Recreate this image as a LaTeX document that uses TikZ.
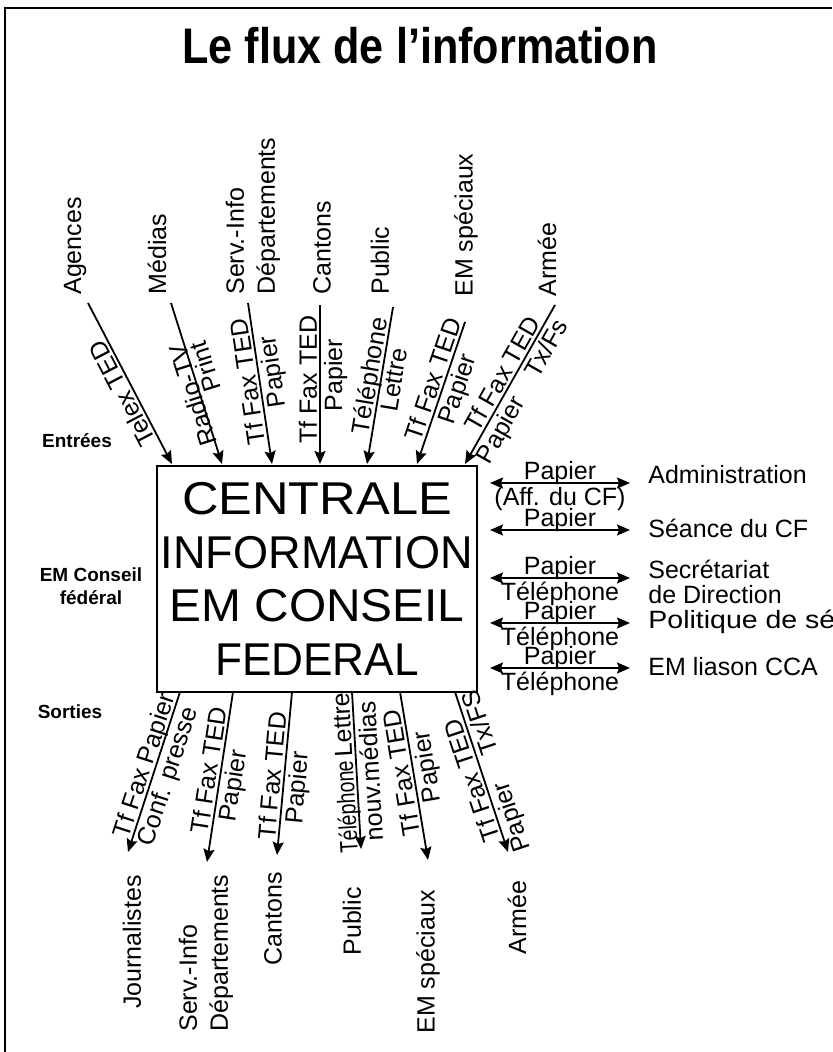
\documentclass[tikz,border=0pt]{standalone}
\usepackage{fontspec}
\setmainfont{Liberation Sans}
\usetikzlibrary{arrows.meta}
\begin{document}
\begin{tikzpicture}[x=0.5pt,y=-0.5pt,
  every node/.style={inner sep=0pt},
  lbl/.style={font=\fontsize{12.5}{15.5}\selectfont},
  conn/.style={line width=0.9pt,{Stealth[length=6.5pt,width=5.5pt,inset=1pt]}-},
  bid/.style={line width=0.9pt,{Stealth[length=6.5pt,width=5.5pt,inset=1pt]}-{Stealth[length=6.5pt,width=5.5pt,inset=1pt]}},
  onl/.style={lbl,sloped,allow upside down,anchor=base,yshift=1.6pt},
  unl/.style={lbl,sloped,allow upside down,anchor=north,yshift=-1.6pt},
  tgt/.style={lbl,rotate=90,align=left},
  side/.style={font=\fontsize{9.5}{11.5}\selectfont\bfseries,align=center},
  rgt/.style={lbl,anchor=west,align=left},
]
\useasboundingbox (0,0) rectangle (832,1052);
\clip (0,0) rectangle (832,1052);

% frame
\draw[line width=1.1pt] (5,1052) -- (5,8) -- (832,8);

% title
\node[anchor=base,font=\fontsize{25}{30}\selectfont\bfseries] (title) at (420,64)
  {\scalebox{0.864}[1]{Le flux de l’information}};

% side labels
\node[side] (ent) at (77,441) {Entrées};
\node[side] (emcf) at (91,586) {EM Conseil\\fédéral};
\node[side] (sor) at (70,712) {Sorties};

% central box
\node[draw,line width=1.2pt,minimum width=160pt,minimum height=113pt,align=center,
      font=\fontsize{23}{26.85}\selectfont] (box) at (317,579)
  {\scalebox{1.1}[1]{CENTRALE}\\\scalebox{0.98}[1]{INFORMATION}\\\scalebox{1.04}[1]{EM CONSEIL}\\\scalebox{0.96}[1]{FEDERAL}};

% incoming sources
\node[tgt,anchor=west] (Ag) at (75,295) {Agences};
\node[tgt,anchor=west] (Me) at (157,295) {Médias};
\node[tgt,anchor=west] (SI) at (253,295) {Serv.-Info\\Départements};
\node[tgt,anchor=west] (Ca) at (322,295) {Cantons};
\node[tgt,anchor=west] (Pu) at (380,295) {Public};
\node[tgt,anchor=west] (EMs) at (466,297) {EM spéciaux};
\node[tgt,anchor=west] (Arm) at (547,297) {Armée};

% incoming connectors
\coordinate (sAg) at (88,303);  \coordinate (hAg) at (172,464);
\coordinate (sMe) at (171,303); \coordinate (hMe) at (222,464);
\coordinate (sSI) at (248,303); \coordinate (hSI) at (272,464);
\coordinate (sCa) at (320,305); \coordinate (hCa) at (320,464);
\coordinate (sPu) at (393,307); \coordinate (hPu) at (367,464);
\coordinate (sEM) at (465,322); \coordinate (hEM) at (417,464);
\coordinate (sAr) at (555,305); \coordinate (hAr) at (465,464);

\draw[conn] (hAg) -- (sAg) node[pos=0.47,onl] {Telex TED};
\draw[conn] (hMe) -- (sMe) node[pos=0.44,onl,yshift=-2.5pt] {Radio-TV}
                           node[pos=0.58,unl] {Print};
\draw[conn] (hSI) -- (sSI) node[pos=0.52,onl] {Tf Fax TED}
                           node[pos=0.56,unl] {Papier};
\draw[conn] (hCa) -- (sCa) node[pos=0.53,onl] {Tf Fax TED}
                           node[pos=0.56,unl] {Papier};
\draw[conn] (hPu) -- (sPu) node[pos=0.55,onl] {Téléphone}
                           node[pos=0.55,unl] {Lettre};
\draw[conn] (hEM) -- (sEM) node[pos=0.57,onl] {Tf Fax TED}
                           node[pos=0.56,unl] {Papier};
\draw[conn] (hAr) -- (sAr) node[pos=0.53,onl] {Tf Fax TED}
                           node[pos=0.26,unl] {Papier}
                           node[pos=0.77,unl] {Tx/Fs};

% outgoing targets
\node[tgt,anchor=east] (Jo) at (132,875) {Journalistes};
\node[tgt,anchor=west] (SIo) at (206,1032) {Serv.-Info\\Départements};
\node[tgt,anchor=east] (Cao) at (273,872) {Cantons};
\node[tgt,anchor=east] (Puo) at (352,887) {Public};
\node[tgt,anchor=east] (EMo) at (428,890) {EM spéciaux};
\node[tgt,anchor=east] (Armo) at (517,880) {Armée};

% outgoing connectors
\coordinate (bJo) at (180,692); \coordinate (dJo) at (128,852);
\coordinate (bSI) at (233,692); \coordinate (dSI) at (207,862);
\coordinate (bCa) at (292,692); \coordinate (dCa) at (277,855);
\coordinate (bPu) at (352,692); \coordinate (dPu) at (361,849);
\coordinate (bEM) at (400,692); \coordinate (dEM) at (428,860);
\coordinate (bAr) at (455,692); \coordinate (dAr) at (508,852);

\draw[conn] (dJo) -- (bJo) node[pos=0.52,onl] {Tf Fax Papier}
                           node[pos=0.50,unl] {Conf. presse};
\draw[conn] (dSI) -- (bSI) node[pos=0.53,onl] {Tf Fax TED}
                           node[pos=0.46,unl] {Papier};
\draw[conn] (dCa) -- (bCa) node[pos=0.48,onl] {Tf Fax TED}
                           node[pos=0.42,unl] {Papier};
\draw[conn] (dPu) -- (bPu) node[pos=0.49,onl] {\scalebox{0.78}[1]{Téléphone}\,Lettre}
                           node[pos=0.49,unl] {nouv.médias};
\draw[conn] (dEM) -- (bEM) node[pos=0.53,onl] {Tf Fax TED}
                           node[pos=0.54,unl] {Papier};
\draw[conn] (dAr) -- (bAr) node[pos=0.47,onl] {Tf Fax TED}
                           node[pos=0.19,unl] {Papier}
                           node[pos=0.78,unl] {Tx/FS};

% right side partners
\node[rgt] (Adm) at (648,475) {Administration};
\node[rgt] (Sea) at (648,528) {Séance du CF};
\node[rgt,font=\fontsize{12.5}{12.5}\selectfont] (Sec) at (648,582) {Secrétariat\\de Direction};
\node[rgt] (Pol) at (648,622) {\scalebox{1.14}[1]{Politique de sé}};
\node[rgt] (EMl) at (648,667) {EM liason CCA};

\coordinate (rL1) at (490,483); \coordinate (rR1) at (630,483);
\coordinate (rL2) at (490,530); \coordinate (rR2) at (630,530);
\coordinate (rL3) at (490,578); \coordinate (rR3) at (630,578);
\coordinate (rL4) at (490,623); \coordinate (rR4) at (630,623);
\coordinate (rL5) at (490,668); \coordinate (rR5) at (630,668);

\draw[bid] (rL1) -- (rR1) node[midway,onl] {Papier} node[midway,unl] {(Aff. du CF)};
\draw[bid] (rL2) -- (rR2) node[midway,onl] {Papier};
\draw[bid] (rL3) -- (rR3) node[midway,onl] {Papier} node[midway,unl] {Téléphone};
\draw[bid] (rL4) -- (rR4) node[midway,onl] {Papier} node[midway,unl] {Téléphone};
\draw[bid] (rL5) -- (rR5) node[midway,onl] {Papier} node[midway,unl] {Téléphone};
\end{tikzpicture}
\end{document}
